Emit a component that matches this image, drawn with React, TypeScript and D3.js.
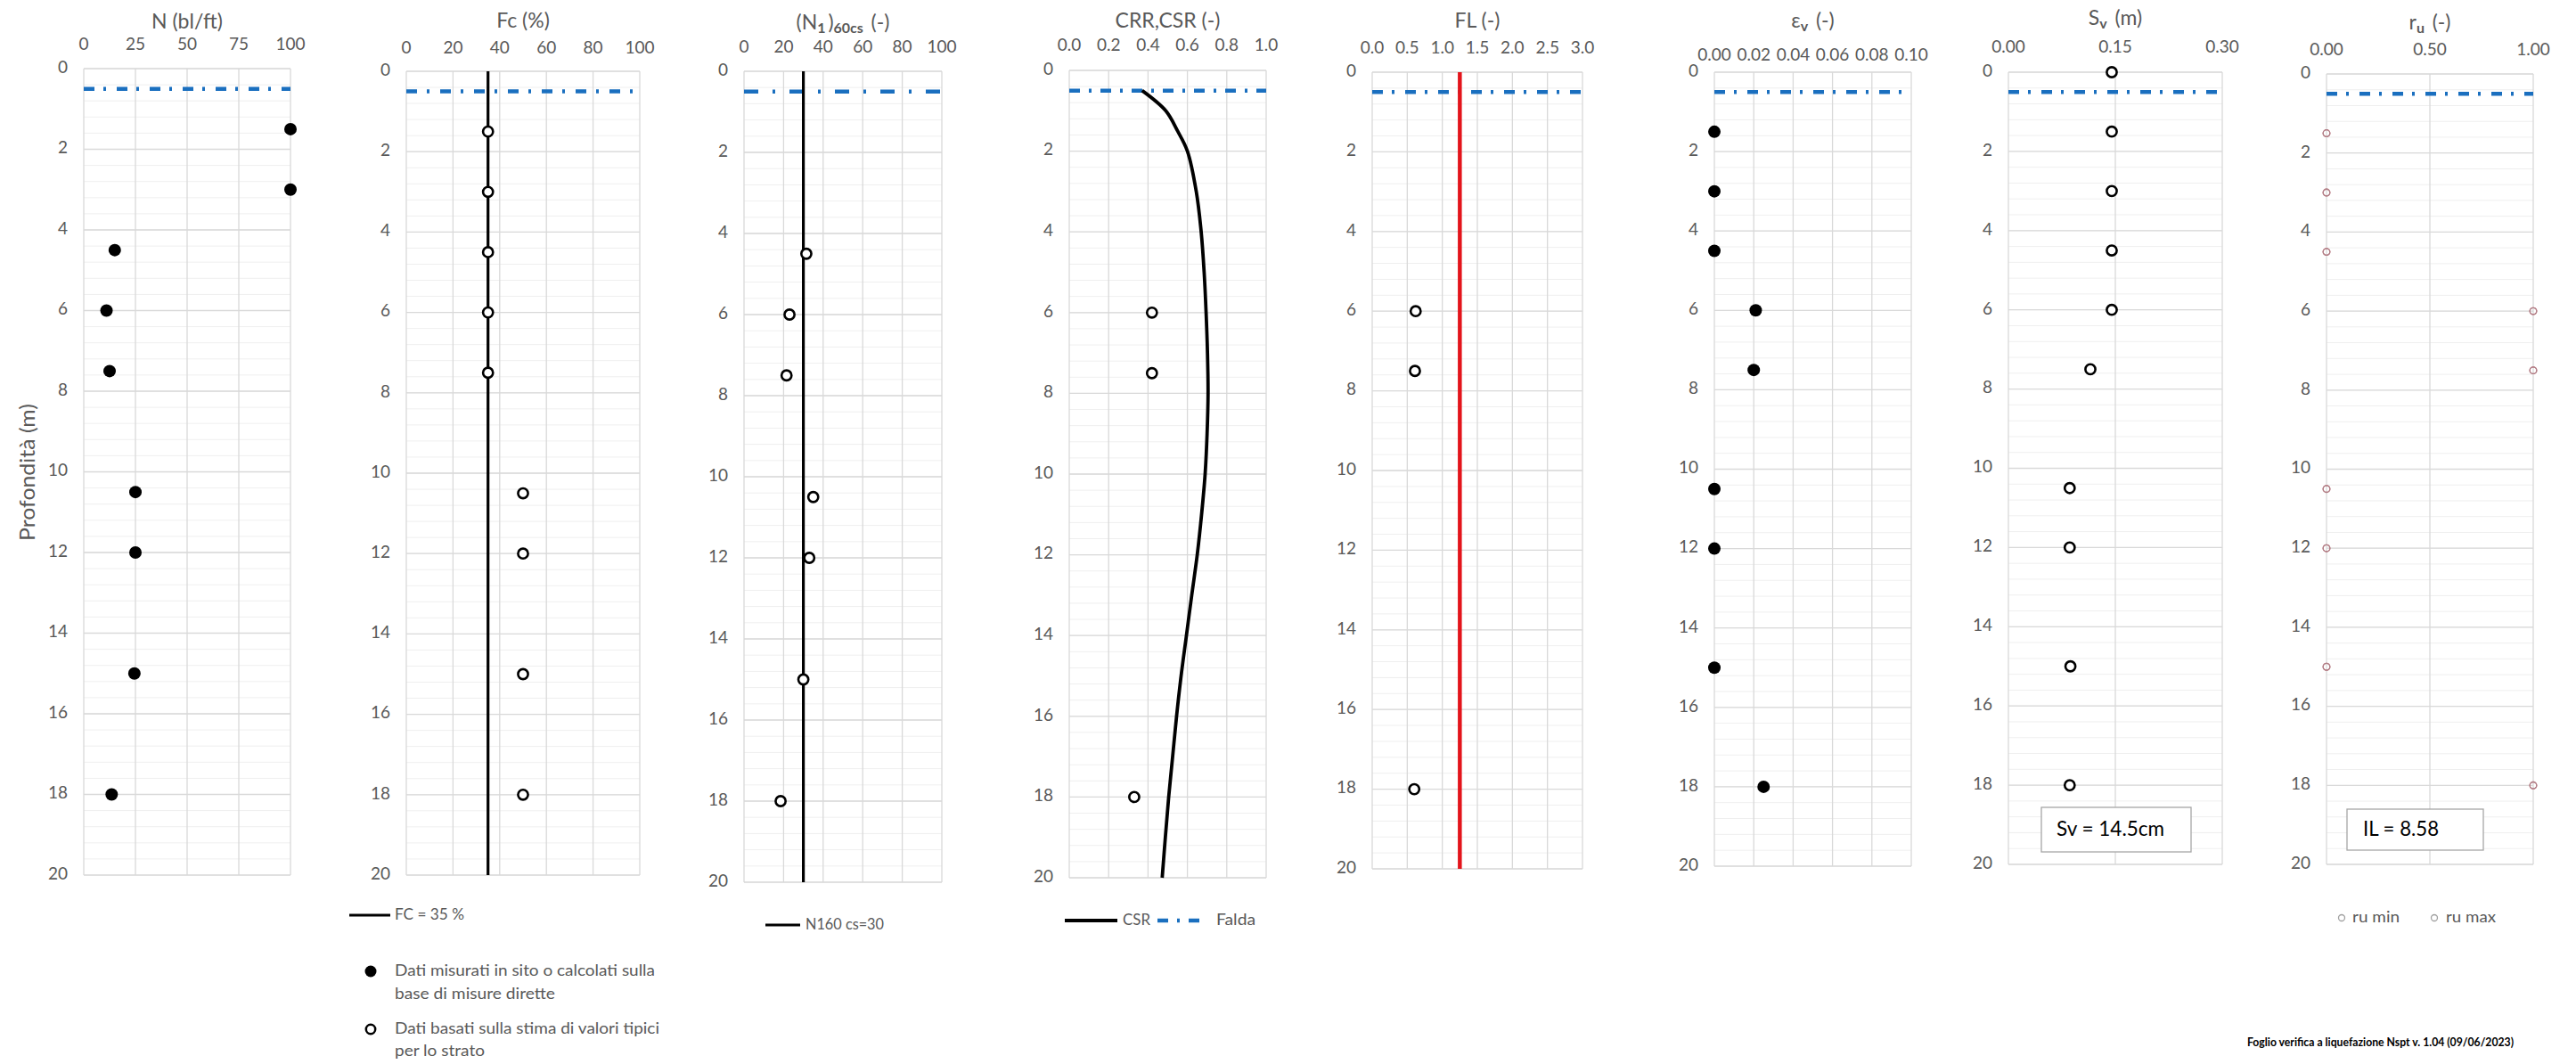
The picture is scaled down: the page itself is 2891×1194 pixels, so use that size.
import React from 'react';
import * as d3 from 'd3';

const FONT = 'Lato, "Open Sans", sans-serif';
const GREY = '#595959';
const GRID = '#d9d9d9';
const MINOR = '#efefef';
const BLUE = '#1a6fbf';

// depth of the tests (m)
const depths = [1.5, 3, 4.5, 6, 7.5, 10.5, 12, 15, 18];
const nSpt = [100, 100, 15, 11, 12.5, 25, 25, 24.5, 13.5];
const fcValues = [35, 35, 35, 35, 35, 50, 50, 50, 50];
const fcLimit = 35;

const n160Depths = [4.5, 6, 7.5, 10.5, 12, 15, 18];
const n160cs = [31.5, 23, 21.5, 35, 33, 30, 18.5];
const n160Limit = 30;

const crrDepths = [6, 7.5, 18];
const crrValues = [0.42, 0.42, 0.33];
const csrDepths = [0.5, 1, 1.5, 2, 3, 4, 5, 6, 7, 8, 9, 10, 11, 12, 13, 14, 15, 16, 17, 18, 19, 20];
const csrValues = [0.37, 0.49, 0.55, 0.6, 0.645, 0.67, 0.685, 0.695, 0.702, 0.705, 0.7, 0.69, 0.672, 0.65, 0.622, 0.595, 0.568, 0.545, 0.525, 0.505, 0.488, 0.472];

const flDepths = [6, 7.5, 18];
const flValues = [0.62, 0.61, 0.6];
const flLimit = 1.25;

const epsV = [0, 0, 0, 0.021, 0.02, 0, 0, 0, 0.025];

const svDepths = [0, 1.5, 3, 4.5, 6, 7.5, 10.5, 12, 15, 18];
const svValues = [0.145, 0.145, 0.145, 0.145, 0.145, 0.115, 0.086, 0.086, 0.087, 0.086];

const ruMin = [0, 0, 0, 1, 1, 0, 0, 0, 1];
const ruMax = [0, 0, 0, 1, 1, 0, 0, 0, 1];

const faldaDepth = 0.5;
const depthTicks = [0, 2, 4, 6, 8, 10, 12, 14, 16, 18, 20];
const minorDepths = d3.range(0, 20.01, 0.4);

const ticksN = [0, 25, 50, 75, 100];
const ticksPct = [0, 20, 40, 60, 80, 100];
const ticksCrr = [0, 0.2, 0.4, 0.6, 0.8, 1.0];
const ticksFl = [0, 0.5, 1, 1.5, 2, 2.5, 3];
const ticksEps = [0, 0.02, 0.04, 0.06, 0.08, 0.1];
const ticksSv = [0, 0.15, 0.3];
const ticksRu = [0, 0.5, 1];

type Frame = { left: number; right: number; top: number; bottom: number; domain: [number, number]; ticks: number[]; fmt: string; tickY: number; titleY: number; dash: string };

function Panel({ f, title, children }: { f: Frame; title: React.ReactNode; children: (x: any, y: any) => React.ReactNode }) {
  const x = d3.scaleLinear().domain(f.domain).range([f.left, f.right]);
  const y = d3.scaleLinear().domain([0, 20]).range([f.top, f.bottom]);
  const fmt = d3.format(f.fmt);
  return (
    <g>
      {minorDepths.map((d, i) => (
        <line key={'m' + i} x1={f.left} x2={f.right} y1={y(d)} y2={y(d)} stroke={MINOR} strokeWidth={1} />
      ))}
      {depthTicks.map(d => (
        <line key={'h' + d} x1={f.left} x2={f.right} y1={y(d)} y2={y(d)} stroke={GRID} strokeWidth={1.3} />
      ))}
      {f.ticks.map(t => (
        <line key={'v' + t} x1={x(t)} x2={x(t)} y1={f.top} y2={f.bottom} stroke={GRID} strokeWidth={1.3} />
      ))}
      {depthTicks.map(d => (
        <text key={'yl' + d} x={f.left - 18} y={y(d)} textAnchor="end" dominantBaseline="middle" fontSize={19} fill={GREY} fontFamily={FONT}>{d}</text>
      ))}
      {f.ticks.map(t => (
        <text key={'xl' + t} x={x(t)} y={f.tickY} textAnchor="middle" dominantBaseline="middle" fontSize={19} fill={GREY} fontFamily={FONT}>{fmt(t)}</text>
      ))}
      <text x={(f.left + f.right) / 2} y={f.titleY} textAnchor="middle" dominantBaseline="middle" fontSize={23} fill={GREY} fontFamily={FONT}>{title}</text>
      <line x1={f.left} x2={f.right} y1={y(faldaDepth)} y2={y(faldaDepth)} stroke={BLUE} strokeWidth={4.5} strokeDasharray={f.dash} />
      {children(x, y)}
    </g>
  );
}

const frames: Record<string, Frame> = {
  n: { left: 94, right: 326, top: 77, bottom: 982, domain: [0, 100], ticks: ticksN, fmt: 'd', tickY: 51, titleY: 26, dash: '12 10 3 12' },
  fc: { left: 456, right: 718, top: 80, bottom: 982, domain: [0, 100], ticks: ticksPct, fmt: 'd', tickY: 55, titleY: 25, dash: '12 11 3 12' },
  n160: { left: 835, right: 1057, top: 80, bottom: 990, domain: [0, 100], ticks: ticksPct, fmt: 'd', tickY: 54, titleY: 27, dash: '16 16 3 16' },
  crr: { left: 1200, right: 1421, top: 79, bottom: 985, domain: [0, 1], ticks: ticksCrr, fmt: '.1f', tickY: 52, titleY: 25, dash: '12 10 3 10' },
  fl: { left: 1540, right: 1776, top: 81, bottom: 975, domain: [0, 3], ticks: ticksFl, fmt: '.1f', tickY: 55, titleY: 25, dash: '12 10 3 12' },
  eps: { left: 1924, right: 2145, top: 81, bottom: 972, domain: [0, 0.1], ticks: ticksEps, fmt: '.2f', tickY: 63, titleY: 25, dash: '12 10 3 12' },
  sv: { left: 2254, right: 2494, top: 81, bottom: 970, domain: [0, 0.3], ticks: ticksSv, fmt: '.2f', tickY: 54, titleY: 22, dash: '12 10 3 12' },
  ru: { left: 2611, right: 2843, top: 83, bottom: 970, domain: [0, 1], ticks: ticksRu, fmt: '.2f', tickY: 57, titleY: 27, dash: '12 10 3 12' },
};

const Filled = ({ cx, cy }: { cx: number; cy: number }) => <circle cx={cx} cy={cy} r={7} fill="#000" />;
const Open = ({ cx, cy }: { cx: number; cy: number }) => <circle cx={cx} cy={cy} r={5.6} fill="#fff" stroke="#000" strokeWidth={2.6} />;

const sub = (s: string) => (
  <>
    <tspan dy={6} fontSize={16} fontWeight="bold">{s}</tspan>
    <tspan dy={-6}>{'\u2009'}</tspan>
  </>
);

export default function App() {
  const csrLine = (x: any, y: any) =>
    d3.line<number>().x((_, i) => x(csrValues[i])).y(d => y(d)).curve(d3.curveCatmullRom)(csrDepths) || '';
  const legendText = { fontFamily: FONT, fontSize: 18, fill: GREY, lengthAdjust: 'spacingAndGlyphs' as const };

  return (
    <svg width={2891} height={1194} style={{ position: 'absolute', left: 0, top: 0, background: '#fff' }}>
      <rect width={2891} height={1194} fill="#fff" />

      <Panel f={frames.n} title="N (bl/ft)">
        {(x, y) => depths.map((d, i) => <Filled key={i} cx={x(nSpt[i])} cy={y(d)} />)}
      </Panel>

      <Panel f={frames.fc} title="Fc (%)">
        {(x, y) => (
          <>
            <line x1={x(fcLimit)} x2={x(fcLimit)} y1={y(0)} y2={y(20)} stroke="#000" strokeWidth={3.2} />
            {depths.map((d, i) => <Open key={i} cx={x(fcValues[i])} cy={y(d)} />)}
          </>
        )}
      </Panel>

      <Panel f={frames.n160} title={<>(N{sub('1')}){sub('60cs')} (-)</>}>
        {(x, y) => (
          <>
            <line x1={x(n160Limit)} x2={x(n160Limit)} y1={y(0)} y2={y(20)} stroke="#000" strokeWidth={3.2} />
            {n160Depths.map((d, i) => <Open key={i} cx={x(n160cs[i])} cy={y(d)} />)}
          </>
        )}
      </Panel>

      <Panel f={frames.crr} title="CRR,CSR (-)">
        {(x, y) => (
          <>
            <path d={csrLine(x, y)} fill="none" stroke="#000" strokeWidth={3.8} />
            {crrDepths.map((d, i) => <Open key={i} cx={x(crrValues[i])} cy={y(d)} />)}
          </>
        )}
      </Panel>

      <Panel f={frames.fl} title="FL (-)">
        {(x, y) => (
          <>
            <line x1={x(flLimit)} x2={x(flLimit)} y1={y(0)} y2={y(20)} stroke="#e3141b" strokeWidth={4.5} />
            {flDepths.map((d, i) => <Open key={i} cx={x(flValues[i])} cy={y(d)} />)}
          </>
        )}
      </Panel>

      <Panel f={frames.eps} title={<>ε{sub('v')} (-)</>}>
        {(x, y) => depths.map((d, i) => <Filled key={i} cx={x(epsV[i])} cy={y(d)} />)}
      </Panel>

      <Panel f={frames.sv} title={<>S{sub('v')} (m)</>}>
        {(x, y) => (
          <>
            {svDepths.map((d, i) => <Open key={i} cx={x(svValues[i])} cy={y(d)} />)}
            <rect x={2291} y={906} width={168} height={50} fill="#fff" stroke="#a6a6a6" strokeWidth={1.3} />
            <text x={2308} y={932} dominantBaseline="middle" fontFamily={FONT} fontSize={23} fill="#000" textLength={121} lengthAdjust="spacingAndGlyphs">Sv = 14.5cm</text>
          </>
        )}
      </Panel>

      <Panel f={frames.ru} title={<>r{sub('u')} (-)</>}>
        {(x, y) => (
          <>
            {depths.map((d, i) => <circle key={'a' + i} cx={x(ruMin[i])} cy={y(d)} r={3.8} fill="none" stroke="#c0707a" strokeWidth={1.3} />)}
            {depths.map((d, i) => <circle key={'b' + i} cx={x(ruMax[i])} cy={y(d)} r={3.8} fill="none" stroke="#b08088" strokeWidth={1.3} />)}
            <rect x={2634} y={908} width={153} height={46} fill="#fff" stroke="#a6a6a6" strokeWidth={1.3} />
            <text x={2652} y={932} dominantBaseline="middle" fontFamily={FONT} fontSize={23} fill="#000" textLength={85} lengthAdjust="spacingAndGlyphs">IL = 8.58</text>
          </>
        )}
      </Panel>

      {/* y axis title */}
      <text transform="translate(33,530) rotate(-90)" textAnchor="middle" dominantBaseline="middle" fontFamily={FONT} fontSize={24} fill={GREY} textLength={154} lengthAdjust="spacingAndGlyphs">Profondità  (m)</text>

      {/* Fc legend + marker legend */}
      <line x1={392} x2={438} y1={1027} y2={1027} stroke="#000" strokeWidth={3.2} />
      <text x={443} y={1027} dominantBaseline="middle" {...legendText} textLength={78}>FC = 35 %</text>
      <circle cx={416} cy={1090} r={6.5} fill="#000" />
      <text x={443} y={1090} dominantBaseline="middle" {...legendText} textLength={292}>Dati misurati in sito o calcolati sulla</text>
      <text x={443} y={1116} dominantBaseline="middle" {...legendText} textLength={180}>base di misure dirette</text>
      <circle cx={416} cy={1155} r={5.2} fill="#fff" stroke="#000" strokeWidth={2.5} />
      <text x={443} y={1155} dominantBaseline="middle" {...legendText} textLength={297}>Dati basati sulla stima di valori tipici</text>
      <text x={443} y={1180} dominantBaseline="middle" {...legendText} textLength={101}>per lo strato</text>

      {/* N160 legend */}
      <line x1={859} x2={898} y1={1038} y2={1038} stroke="#000" strokeWidth={3.2} />
      <text x={904} y={1038} dominantBaseline="middle" {...legendText} textLength={88}>N160 cs=30</text>

      {/* CSR / Falda legend */}
      <line x1={1195} x2={1254} y1={1033} y2={1033} stroke="#000" strokeWidth={3.8} />
      <text x={1260} y={1033} dominantBaseline="middle" {...legendText} textLength={31}>CSR</text>
      <line x1={1299} x2={1353} y1={1033} y2={1033} stroke={BLUE} strokeWidth={4.5} strokeDasharray="12 10 3 10" />
      <text x={1365} y={1033} dominantBaseline="middle" {...legendText} textLength={44}>Falda</text>

      {/* ru legend */}
      <circle cx={2628} cy={1030} r={3.5} fill="none" stroke="#a0a0a0" strokeWidth={1.3} />
      <text x={2640} y={1030} dominantBaseline="middle" {...legendText} textLength={53}>ru min</text>
      <circle cx={2732} cy={1030} r={3.5} fill="none" stroke="#a0a0a0" strokeWidth={1.3} />
      <text x={2745} y={1030} dominantBaseline="middle" {...legendText} textLength={56}>ru max</text>

      <text x={2522} y={1171} dominantBaseline="middle" fontFamily={FONT} fontSize={13} fontWeight="bold" fill="#000" textLength={299} lengthAdjust="spacingAndGlyphs">Foglio verifica a liquefazione Nspt v. 1.04 (09/06/2023)</text>
    </svg>
  );
}
